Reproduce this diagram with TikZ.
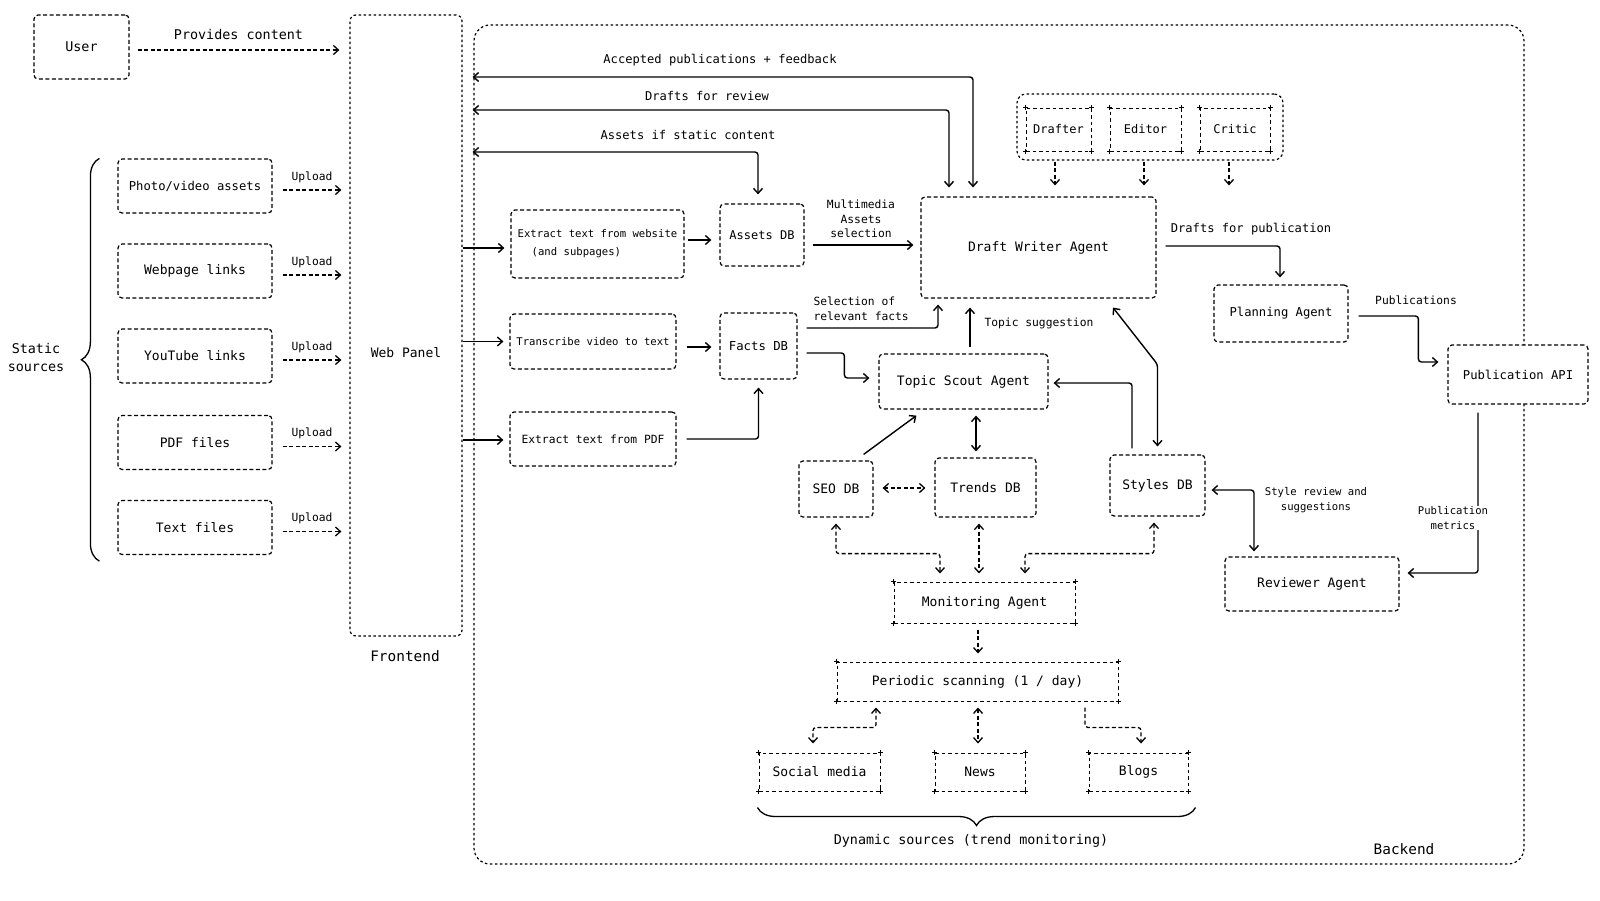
\documentclass[tikz,border=0pt]{standalone}
\usepackage{fontspec}
\setmainfont{DejaVu Sans Mono}
\usetikzlibrary{arrows.meta,decorations.pathreplacing}
\tikzset{
  >={Straight Barb[length=5pt,width=9pt]},
  box/.style={draw, line width=1.2pt, dash pattern=on 4pt off 2.5pt, rounded corners=4pt,
    fill=white, inner sep=0pt, align=center, font=\fontsize{13}{16}\selectfont},
  plusbox/.style={box, rounded corners=0pt, line width=1pt, dash pattern=on 3.5pt off 3pt},
  srcbox/.style={box, minimum width=154, minimum height=54},
  panel/.style={draw, line width=1.2pt, dash pattern=on 2.5pt off 2.5pt, rounded corners=6pt, inner sep=0pt},
  arr/.style={line width=1.4pt, rounded corners=3pt, ->},
  darr/.style={line width=1.3pt, dash pattern=on 4pt off 2.5pt, rounded corners=3pt, ->},
  brc/.style={line width=1.3pt, decorate, decoration={brace, amplitude=18pt}},
  lblL/.style={font=\fontsize{14.4}{17}\selectfont, align=center},
  lblB/.style={font=\fontsize{13.4}{18}\selectfont, align=center},
  lblM/.style={font=\fontsize{12.1}{15}\selectfont, align=center},
  lblS/.style={font=\fontsize{11.3}{14.5}\selectfont, align=center},
  lblT/.style={font=\fontsize{10.6}{14.5}\selectfont, align=center},
}
\begin{document}
\begin{tikzpicture}[x=1pt,y=-1pt]
  \useasboundingbox (0,0) rectangle (1600,900);
  \fill[white] (0,0) rectangle (1600,900);
  %% containers
  \node[panel, rounded corners=16pt, minimum width=1050, minimum height=839] (back) at (999,444.5) {};
  \node[panel, minimum width=112, minimum height=621] (web) at (406,325.5) {};
  \node[panel, rounded corners=9pt, minimum width=266, minimum height=66] (team) at (1150,127) {};
  \node[box, draw=none, fill=none] (webtxt) at (406,353) {Web Panel};
  \node[lblL] (front) at (405,656) {Frontend};
  \node[lblL] (backtxt) at (1404,849) {Backend};
  %% user and static sources
  \node[box, font=\fontsize{13.4}{16}\selectfont, minimum width=95, minimum height=64] (user) at (81.5,47) {User};
  \node[srcbox, font=\fontsize{12.2}{15}\selectfont] (photo) at (195,186) {Photo/video assets};
  \node[srcbox] (webl) at (195,271) {Webpage links};
  \node[srcbox] (yt) at (195,356) {YouTube links};
  \node[srcbox] (pdf) at (195,442.5) {PDF files};
  \node[srcbox] (txt) at (195,527.5) {Text files};
  \node[lblB] (static) at (36,357) {Static\\sources};
  \draw[brc] ([xshift=-18,yshift=-6]txt.south west) -- ([xshift=-18]photo.north west);
  \draw[darr] ([xshift=8,yshift=-3]user.east) -- ([xshift=-10,yshift=-3]user.east -| web.west)
    node[midway, yshift=15pt, lblB] {Provides content};
  \foreach \s in {photo,webl,yt,pdf,txt}
    \draw[darr] ([xshift=10,yshift=-4]\s.east) -- ([xshift=-8,yshift=-4]\s.east -| web.west)
      node[midway, yshift=13pt, lblS] {Upload};
  %% static content processing
  \node[box, font=\fontsize{10.6}{18}\selectfont, align=left, minimum width=173, minimum height=68] (extweb) at (597.5,244)
    {Extract text from website\\\hspace*{14pt}(and subpages)};
  \node[box, font=\fontsize{12}{15}\selectfont, minimum width=84, minimum height=62] (assets) at (762,235) {Assets DB};
  \node[box, font=\fontsize{10.6}{14}\selectfont, minimum width=166, minimum height=55] (transc) at (593,341.5) {Transcribe video to text};
  \node[box, font=\fontsize{12.3}{15}\selectfont, minimum width=77, minimum height=66] (facts) at (758.5,346) {Facts DB};
  \node[box, font=\fontsize{11.3}{14}\selectfont, minimum width=166, minimum height=54] (extpdf) at (593,439) {Extract text from PDF};
  %% agents
  \node[box, minimum width=235, minimum height=101] (dw) at (1038.5,247.5) {Draft Writer Agent};
  \node[plusbox, font=\fontsize{12}{15}\selectfont, minimum width=65, minimum height=43] (drafter) at (1058.5,129.5) {Drafter};
  \node[plusbox, font=\fontsize{12}{15}\selectfont, minimum width=71, minimum height=43] (editor) at (1145.5,129.5) {Editor};
  \node[plusbox, font=\fontsize{12}{15}\selectfont, minimum width=70, minimum height=43] (critic) at (1235,129.5) {Critic};
  \node[box, font=\fontsize{12.2}{15}\selectfont, minimum width=134, minimum height=57] (plan) at (1281,313.5) {Planning Agent};
  \node[box, font=\fontsize{12.2}{15}\selectfont, minimum width=140, minimum height=59] (pubapi) at (1518,374.5) {Publication API};
  \node[box, minimum width=169, minimum height=55] (topic) at (963.5,381.5) {Topic Scout Agent};
  \node[box, minimum width=74, minimum height=56] (seo) at (836,489) {SEO DB};
  \node[box, minimum width=101, minimum height=59] (trends) at (985.5,487.5) {Trends DB};
  \node[box, minimum width=95, minimum height=61] (styles) at (1157.5,485.5) {Styles DB};
  \node[box, minimum width=174, minimum height=54] (review) at (1312,584) {Reviewer Agent};
  \node[plusbox, minimum width=181, minimum height=41] (monitor) at (984.5,602.5) {Monitoring Agent};
  \node[plusbox, minimum width=281, minimum height=39] (periodic) at (977.5,681.5) {Periodic scanning (1 / day)};
  \node[plusbox, minimum width=121, minimum height=38] (social) at (819.5,772) {Social media};
  \node[plusbox, minimum width=90, minimum height=38] (news) at (980,772) {News};
  \node[plusbox, minimum width=99, minimum height=38] (blogs) at (1138.5,772) {Blogs};
  %% plus marks on the ascii style boxes
  \foreach \n in {drafter,editor,critic,monitor,periodic,social,news,blogs}
    \foreach \c in {north west,north east,south west,south east}
      \draw[line width=1pt] ([xshift=-2.5pt]\n.\c) -- ([xshift=2.5pt]\n.\c)
        ([yshift=-2.5pt]\n.\c) -- ([yshift=2.5pt]\n.\c);
  %% labels
  \node[lblM] (acclab) at (720,60) {Accepted publications + feedback};
  \node[lblM] (revlab) at (707,96) {Drafts for review};
  \node[lblM] (astlab) at (688,135) {Assets if static content};
  \node[lblS] (mmlab) at (861,219) {Multimedia\\Assets\\selection};
  \node[lblS, align=left, anchor=west] (sellab) at (810,309) {Selection of\\relevant facts};
  \node[lblS, anchor=west] (toplab) at (981,323) {Topic suggestion};
  \node[lblM] (publab) at (1251,229) {Drafts for publication};
  \node[lblS] (pubslab) at (1416,300) {Publications};
  \node[lblT] (stylab) at (1316,500) {Style review and\\suggestions};
  \node[lblB] (dynlab) at (971,841) {Dynamic sources (trend monitoring)};
  %% web panel into backend
  \draw[arr] ([yshift=-4]extweb.west -| web.east) -- ([xshift=-6,yshift=-4]extweb.west);
  \draw[arr] (transc.west -| web.east) -- ([xshift=-6]transc.west);
  \draw[arr] ([yshift=-1]extpdf.west -| web.east) -- ([xshift=-6,yshift=-1]extpdf.west);
  %% static content flow
  \draw[arr] ([xshift=3,yshift=4]extweb.east) -- ([xshift=-8,yshift=4]extweb.east -| assets.west);
  \draw[arr] ([xshift=10,yshift=-5.5]transc.east) -- ([xshift=-8,yshift=-5.5]transc.east -| facts.west);
  \draw[arr, shorten >=8pt] ([xshift=10]extpdf.east) -| (facts.south);
  \draw[arr] ([xshift=8,yshift=-10]assets.east) -- ([xshift=-7,yshift=-10]assets.east -| dw.west);
  \draw[arr, shorten >=6pt] ([xshift=9,yshift=18]facts.east) -| ([xshift=-100.5]dw.south);
  \draw[arr] ([xshift=9,yshift=-7]facts.east) -| ([xshift=-34,yshift=3.5]topic.west) -- ([xshift=-9,yshift=3.5]topic.west);
  %% return paths to the web panel
  \draw[arr, <->] ([xshift=10]web.east |- 0,77) -| ([xshift=-65.5,yshift=9]dw.north);
  \draw[arr, <->] ([xshift=10]web.east |- 0,110) -| ([xshift=-89.5,yshift=9]dw.north);
  \draw[arr, <->] ([xshift=10]web.east |- 0,152) -| ([xshift=-4,yshift=9]assets.north);
  %% sub-agents into the writer
  \foreach \dx in {-95,-6,79}
    \draw[darr] ([xshift=\dx,yshift=-1]team.south) -- ([xshift=\dx,yshift=11]team.south |- dw.north);
  %% topic scouting
  \draw[arr] ([xshift=6.5,yshift=6]topic.north) -- ([xshift=6.5,yshift=-9]topic.north |- dw.south);
  \draw[arr, <->] ([xshift=12.5,yshift=-6]topic.south) -- ([xshift=12.5,yshift=6]topic.south |- trends.north);
  \draw[arr] ([xshift=-10,yshift=6]seo.north east) -- ([xshift=38,yshift=-6]topic.south west);
  \draw[darr, <->] ([xshift=9,yshift=1]seo.east) -- ([xshift=-9,yshift=1]seo.east -| trends.west);
  \draw[arr, shorten >=5pt] ([xshift=-25.5,yshift=6]styles.north) |- ([yshift=-1.5]topic.east);
  \draw[arr, <->] ([yshift=8]styles.north) -- ++(0,-82) -- ([xshift=74.5,yshift=-9]dw.south);
  %% monitoring
  \draw[darr, <->, shorten <=6pt, shorten >=8pt] (seo.south) -- ++(0,36) -| ([xshift=-44.5]monitor.north);
  \draw[darr, <->, shorten <=6pt, shorten >=8pt] ([xshift=-6.5]trends.south) -- ([xshift=-6.5]trends.south |- monitor.north);
  \draw[darr, <->, shorten <=6pt, shorten >=8pt] ([xshift=-3.5]styles.south) -- ++(0,37) -| ([xshift=40.5]monitor.north);
  \draw[darr, shorten <=6pt, shorten >=8pt] ([xshift=-6.5]monitor.south) -- ([xshift=-6.5]monitor.south |- periodic.north);
  \draw[darr, <->, shorten <=6pt, shorten >=9pt] ([xshift=-101.5]periodic.south) -- ++(0,26) -| ([xshift=-6.5]social.north);
  \draw[darr, <->, shorten <=6pt, shorten >=9pt] ([xshift=0.5]periodic.south) -- ([xshift=0.5]periodic.south |- news.north);
  \draw[darr, shorten <=6pt, shorten >=9pt] ([xshift=107.5]periodic.south) -- ++(0,26) -| ([xshift=2.5]blogs.north);
  \draw[brc] ([xshift=7,yshift=-16]blogs.south east) -- ([xshift=-1,yshift=-16]social.south west);
  %% publishing and review
  \draw[arr] ([xshift=9,yshift=1.5]dw.east) -| ([xshift=-1,yshift=7]plan.north);
  \draw[arr] ([xshift=10,yshift=-2.5]plan.east) -| ([xshift=-29,yshift=12.5]pubapi.west) -- ([xshift=-9,yshift=12.5]pubapi.west);
  \draw[arr] ([xshift=-40,yshift=-8]pubapi.south) |- ([xshift=8,yshift=11]review.east);
  \node[lblT, fill=white, inner sep=1pt] (metlab) at (1453,518) {Publication\\metrics};
  \draw[arr, <->] ([xshift=6,yshift=-4.5]styles.east) -| ([xshift=-58,yshift=5]review.north);
\end{tikzpicture}
\end{document}
